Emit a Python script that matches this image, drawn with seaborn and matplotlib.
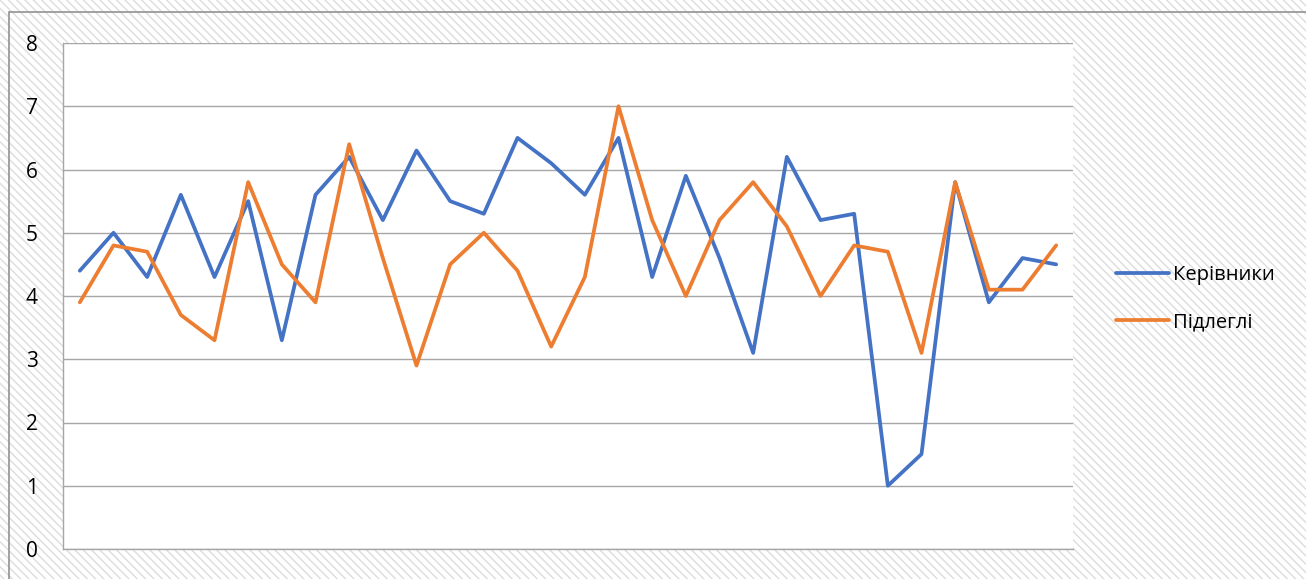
import numpy as np
import pandas as pd
import seaborn as sns
import matplotlib.pyplot as plt
from matplotlib.patches import Rectangle

# values (30 respondents)
kerivnyky = [4.4, 5.0, 4.3, 5.6, 4.3, 5.5, 3.3, 5.6, 6.2, 5.2,
             6.3, 5.5, 5.3, 6.5, 6.1, 5.6, 6.5, 4.3, 5.9, 4.6,
             3.1, 6.2, 5.2, 5.3, 1.0, 1.5, 5.8, 3.9, 4.6, 4.5]
pidlehli = [3.9, 4.8, 4.7, 3.7, 3.3, 5.8, 4.5, 3.9, 6.4, 4.6,
            2.9, 4.5, 5.0, 4.4, 3.2, 4.3, 7.0, 5.2, 4.0, 5.2,
            5.8, 5.1, 4.0, 4.8, 4.7, 3.1, 5.8, 4.1, 4.1, 4.8]
series_names = ["Керівники", "Підлеглі"]
y_ticks = [0, 1, 2, 3, 4, 5, 6, 7, 8]

n = len(kerivnyky)
df = pd.DataFrame({
    "idx": list(range(n)) * 2,
    "value": kerivnyky + pidlehli,
    "series": [series_names[0]] * n + [series_names[1]] * n,
})

sns.set_style("white")
plt.rcParams["font.family"] = ["Open Sans", "DejaVu Sans"]
plt.rcParams["hatch.color"] = "#dcdcdc"

fig = plt.figure(figsize=(13.06, 5.79), dpi=100)

# hatched background, then the outer chart border on top of it
hatch = Rectangle((0, 0), 1, 1, transform=fig.transFigure, facecolor="white",
                  edgecolor="#dcdcdc", hatch="\\\\\\\\", linewidth=0, zorder=-3)
fig.patches.append(hatch)
border = Rectangle((9 / 1306, -0.1), 1.2, 1.1 - 12 / 579, transform=fig.transFigure,
                   facecolor="none", edgecolor="#9a9a9a", linewidth=1.3, zorder=-1)
fig.patches.append(border)

ax = fig.add_axes([63 / 1306, 30 / 579, (1073 - 63) / 1306, (549 - 43) / 579])
ax.set_facecolor("white")

sns.lineplot(data=df, x="idx", y="value", hue="series",
             palette=["#4472C4", "#ED7D31"], linewidth=2.7, ax=ax)

ax.set_xlim(-0.5, n - 0.5)
ax.set_ylim(0, 8)
ax.set_yticks(y_ticks)
ax.set_xticks(np.arange(-0.5, n, 1))
ax.set_xticklabels([])
ax.set_xlabel("")
ax.set_ylabel("")
ax.grid(axis="y", color="#a6a6a6", linewidth=1)
ax.set_axisbelow(True)

for s in ["top", "right"]:
    ax.spines[s].set_visible(False)
for s in ["left", "bottom"]:
    ax.spines[s].set_color("#a6a6a6")
    ax.spines[s].set_linewidth(1)

ax.tick_params(axis="x", length=6, color="#a6a6a6", direction="out")
ax.tick_params(axis="y", length=6, color="#a6a6a6", direction="out",
               labelsize=15, pad=12, labelcolor="black")

handles, labels = ax.get_legend_handles_labels()
ax.legend(handles, labels, loc="center left", bbox_to_anchor=(1.025, 0.495),
          frameon=False, fontsize=14.5, handlelength=2.6, handletextpad=0.2,
          labelspacing=1.35, labelcolor="black")

fig.savefig("out.png", dpi=100)
